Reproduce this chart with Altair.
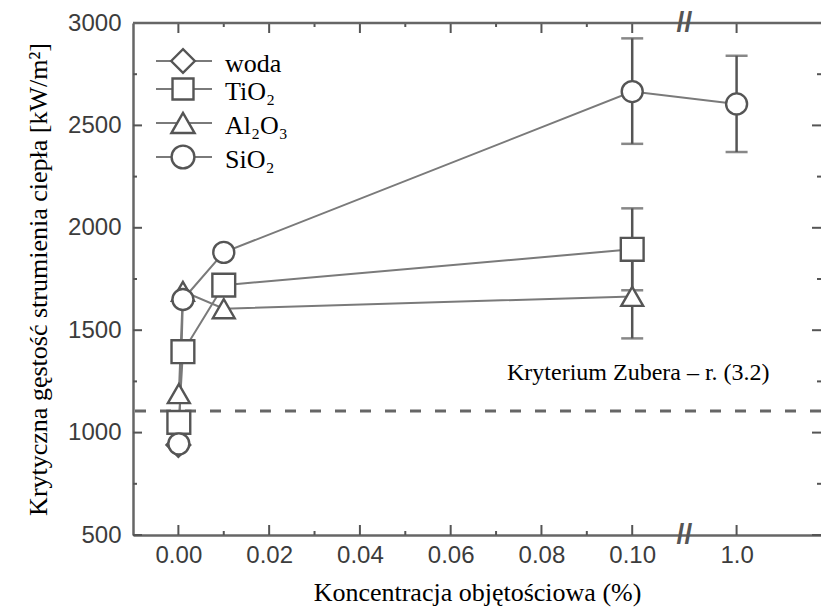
import altair as alt
import pandas as pd

# ---------------- data ----------------
series_names = ["woda", "TiO₂", "Al₂O₃", "SiO₂"]
series_shapes = ["diamond", "square", "triangle-up", "circle"]
series_sizes = [560, 440, 540, 520]

woda_c = [0.0]
woda_q = [940]
tio2_c = [0.0001, 0.001, 0.01, 0.1]
tio2_q = [1050, 1395, 1720, 1895]
al2o3_c = [0.0001, 0.001, 0.01, 0.1]
al2o3_q = [1190, 1690, 1605, 1665]
sio2_c = [0.0001, 0.001, 0.01, 0.1, 1.0]
sio2_q = [945, 1650, 1880, 2665, 2605]

err_series = ["TiO₂", "Al₂O₃", "SiO₂", "SiO₂"]
err_c = [0.1, 0.1, 0.1, 1.0]
err_lo = [1695, 1460, 2410, 2370]
err_hi = [2095, 1865, 2925, 2840]

zuber_q = [1105]
zuber_label = "Kryterium Zubera – r. (3.2)"

x_major = [0.0, 0.02, 0.04, 0.06, 0.08, 0.10, 1.0]
x_minor = [0.01, 0.03, 0.05, 0.07, 0.09]
y_major = [500, 1000, 1500, 2000, 2500, 3000]
y_minor = [750, 1250, 1750, 2250, 2750]

# ---------------- layout / broken axis ----------------
BREAK_POS = 0.123      # where "1.0" sits on the broken x axis
BREAK_MARK = 0.1115    # position of the "//" break symbol
W, H = 688, 512
XDOM = [-0.01, 0.1416]
YDOM = [500, 3000]

def bx(v):
    return BREAK_POS if v >= 1 else v

rows = []
for name, cs, qs in [("woda", woda_c, woda_q), ("TiO₂", tio2_c, tio2_q),
                     ("Al₂O₃", al2o3_c, al2o3_q), ("SiO₂", sio2_c, sio2_q)]:
    for c, q in zip(cs, qs):
        rows.append({"series": name, "c": c, "q": q})
pts = pd.DataFrame(rows)
err = pd.DataFrame({"series": err_series, "c": err_c, "lo": err_lo, "hi": err_hi})

xmap = "datum.c >= 1 ? %s : datum.c" % BREAK_POS

xscale = alt.Scale(domain=XDOM, nice=False, zero=False)
yscale = alt.Scale(domain=YDOM, nice=False, zero=False)

GRAY = "#555555"
LINE = "#7a7a7a"
SERIF = "Liberation Serif"
SANS = "Liberation Sans"

x_axis = alt.Axis(
    values=[bx(v) for v in x_major],
    labelExpr="datum.value > 0.11 ? '1.0' : format(datum.value, '.2f')",
    ticks=False, grid=False, domainColor="#666666", domainWidth=2.5,
    labelFont=SANS, labelFontSize=24, labelColor="#3c3c3c", labelPadding=8,
    title="Koncentracja objętościowa (%)", titleFont=SERIF, titleFontSize=26,
    titleFontWeight="normal", titleColor="#000000", titlePadding=12,
)
y_axis = alt.Axis(
    values=y_major, format="d",
    ticks=False, grid=False, domainColor="#666666", domainWidth=2.5,
    labelFont=SANS, labelFontSize=24, labelColor="#3c3c3c", labelPadding=12,
    title="Krytyczna gęstość strumienia ciepła [kW/m²]", titleFont=SERIF,
    titleFontSize=26, titleFontWeight="normal", titleColor="#000000", titlePadding=16,
)

def X(field="xp:Q"):
    return alt.X(field, scale=xscale, axis=x_axis)

def Y(field="q:Q"):
    return alt.Y(field, scale=yscale, axis=y_axis)

# Zuber dashed line
zuber = alt.Chart(pd.DataFrame({"q": zuber_q})).mark_rule(
    strokeDash=[11, 14], strokeWidth=3, color="#666666"
).encode(y=Y())

# error bars
err_rule = alt.Chart(err).transform_calculate(xp=xmap).mark_rule(
    color=GRAY, strokeWidth=2.5
).encode(x=X(), y=Y("lo:Q"), y2="hi:Q")
err_caps = alt.Chart(err).transform_calculate(xp=xmap).transform_fold(
    ["lo", "hi"], as_=["end", "q"]
).mark_tick(orient="horizontal", color=GRAY, size=22, thickness=2.5).encode(x=X(), y=Y())

# connecting lines
lines = alt.Chart(pts).transform_calculate(xp=xmap).mark_line(
    color=LINE, strokeWidth=2
).encode(x=X(), y=Y(), detail="series:N", order="c:Q")

# markers
points = alt.Chart(pts).transform_calculate(xp=xmap).mark_point(
    filled=True, fill="white", fillOpacity=1, stroke=GRAY, strokeWidth=2.4, opacity=1
).encode(
    x=X(), y=Y(),
    shape=alt.Shape("series:N", scale=alt.Scale(domain=series_names, range=series_shapes), legend=None),
    size=alt.Size("series:N", scale=alt.Scale(domain=series_names, range=series_sizes), legend=None),
)

# inward ticks on all four sides
xmaj = pd.DataFrame({"c": x_major})
xmin = pd.DataFrame({"c": x_minor})
ymaj = pd.DataFrame({"q": y_major})
ymin = pd.DataFrame({"q": y_minor})

def xticks(df, y0, y1):
    return alt.Chart(df).transform_calculate(xp=xmap).mark_rule(color=GRAY, strokeWidth=2).encode(
        x=X(), y=alt.value(y0), y2=alt.value(y1))

def yticks(df, x0, x1):
    return alt.Chart(df).mark_rule(color=GRAY, strokeWidth=2).encode(
        y=Y(), x=alt.value(x0), x2=alt.value(x1))

ticks = [
    xticks(xmaj, H, H - 10), xticks(xmin, H, H - 4),
    xticks(xmaj, 0, 10), xticks(xmin, 0, 4),
    yticks(ymaj, 0, 9), yticks(ymin, 0, 4),
    yticks(ymaj, W, W - 9), yticks(ymin, W, W - 4),
]

top_frame = alt.Chart(pd.DataFrame({"a": [0]})).mark_rule(color="#666666", strokeWidth=2.5).encode(
    x=alt.value(0), x2=alt.value(W), y=alt.value(0))

def break_mark(ypix):
    return alt.Chart(pd.DataFrame({"xp": [BREAK_MARK]})).mark_text(
        text="//", font=SANS, fontSize=28, color=GRAY, fontWeight="bold", baseline="middle"
    ).encode(x=X(), y=alt.value(ypix))

breaks = [break_mark(0), break_mark(H)]

# annotation
zuber_text = alt.Chart(pd.DataFrame({"t": [zuber_label]})).mark_text(
    font=SERIF, fontSize=24, color="#000000", align="left", baseline="alphabetic"
).encode(text="t:N", x=alt.value(374), y=alt.value(357))

# manual legend (line through symbol, serif labels)
leg_rows = [38, 66, 100, 134]
leg_layers = []
for name, shp, sz, ly in zip(series_names, series_shapes, series_sizes, leg_rows):
    d = pd.DataFrame({"series": [name]})
    leg_layers.append(alt.Chart(d).mark_rule(color=LINE, strokeWidth=2.2).encode(
        x=alt.value(23), x2=alt.value(79), y=alt.value(ly)))
    leg_layers.append(alt.Chart(d).mark_point(
        shape=shp, size=sz, filled=True, fill="white", fillOpacity=1, stroke=GRAY, strokeWidth=2.4, opacity=1
    ).encode(x=alt.value(50), y=alt.value(ly)))
    leg_layers.append(alt.Chart(d).mark_text(
        font=SERIF, fontSize=26, color="#000000", align="left", baseline="middle", dy=3
    ).encode(text="series:N", x=alt.value(92), y=alt.value(ly)))

chart = alt.layer(
    zuber, err_rule, err_caps, lines, points, *ticks, top_frame, *breaks,
    zuber_text, *leg_layers
).properties(
    width=W, height=H,
    autosize=alt.AutoSizeParams(type="none"),
    padding={"left": 133, "top": 23, "right": 0, "bottom": 78},
).configure(
    background="white"
).configure_axis(
    titleFont=SERIF, titleFontSize=26, titleFontWeight="normal", titleColor="#000000",
    labelFont=SANS, labelFontSize=24, labelColor="#3c3c3c",
).configure_view(stroke=None)

chart.save("out.html", embed_options={"renderer": "svg", "actions": False})
